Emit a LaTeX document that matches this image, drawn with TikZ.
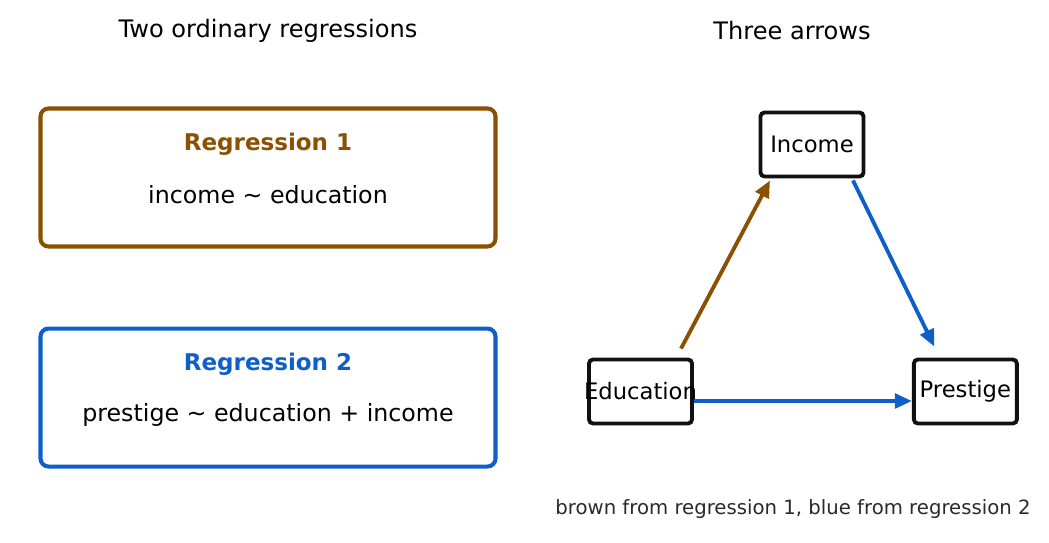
\documentclass[tikz,border=0pt]{standalone}
\usepackage{fontspec}
\setmainfont{DejaVu Sans}
\usetikzlibrary{arrows.meta, positioning}
\definecolor{regbrown}{HTML}{8B5000}
\definecolor{regblue}{HTML}{0F5FCB}
\definecolor{nodeedge}{HTML}{111111}
\definecolor{textdim}{HTML}{2A2A2A}

\begin{document}
\begin{tikzpicture}[
  >={Triangle[length=3.4mm,width=2.9mm]},
  node distance=1.56cm,
  paneltitle/.style={font=\fontsize{13.7}{16}\selectfont, text=black},
  regbox/.style={
    rectangle, rounded corners=1.6mm,
    minimum width=9.1cm, minimum height=2.76cm,
    draw, line width=2.3pt, fill=white
  },
  boxhead/.style={font=\fontsize{13.1}{16}\selectfont\bfseries},
  boxbody/.style={font=\fontsize{13.5}{16}\selectfont, text=black},
  varnode/.style={
    rectangle, rounded corners=0.8mm,
    minimum width=2.06cm, minimum height=1.28cm,
    draw=nodeedge, line width=2.2pt, fill=white,
    inner xsep=-0.2cm, inner ysep=0pt,
    font=\fontsize{12.9}{15}\selectfont
  },
  path1/.style={->, line width=2.2pt, color=regbrown},
  path2/.style={->, line width=2.2pt, color=regblue}
]
\useasboundingbox (0,0) rectangle (20.98,-10.86);

% ── Titles ────────────────────────────────────────────────────────────────
\node[paneltitle] (lefttitle)  at (5.36, -0.62)  {Two ordinary regressions};
\node[paneltitle] (righttitle) at (15.84, -0.62) {Three arrows};

% ── Regression boxes ──────────────────────────────────────────────────────
\node[regbox, draw=regbrown] (reg1) at (5.36, -3.55) {};
\node[boxhead, text=regbrown] (reg1head) at ([yshift=-0.76cm]reg1.north)
  {Regression 1};
\node[boxbody] (reg1body) at ([yshift=-1.76cm]reg1.north)
  {income \textasciitilde\ education};

\node[regbox, draw=regblue, below=of reg1] (reg2) {};
\node[boxhead, text=regblue] (reg2head) at ([yshift=-0.76cm]reg2.north)
  {Regression 2};
\node[boxbody] (reg2body) at ([yshift=-1.76cm]reg2.north)
  {prestige \textasciitilde\ education + income};

% ── Path diagram ──────────────────────────────────────────────────────────
\node[varnode] (income) at (16.24, -2.89) {Income};
\node[varnode] (educ)   at (12.81, -7.83) {Education};
\node[varnode, right=4.36cm of educ] (prestige) {Prestige};

\draw[path1] ([shift={(0.81,0.18)}]educ.north)
  -- ([shift={(-0.84,-0.04)}]income.south);
\draw[path2] ([shift={(0.82,-0.04)}]income.south)
  -- ([shift={(-0.62,0.22)}]prestige.north);
\draw[path2] ([yshift=-0.19cm]educ.east) -- ([yshift=-0.19cm]prestige.west);

% ── Note ──────────────────────────────────────────────────────────────────
\node[font=\fontsize{11.2}{13}\selectfont, text=textdim] (note)
  at (15.86, -10.18) {brown from regression 1, blue from regression 2};

\end{tikzpicture}
\end{document}
